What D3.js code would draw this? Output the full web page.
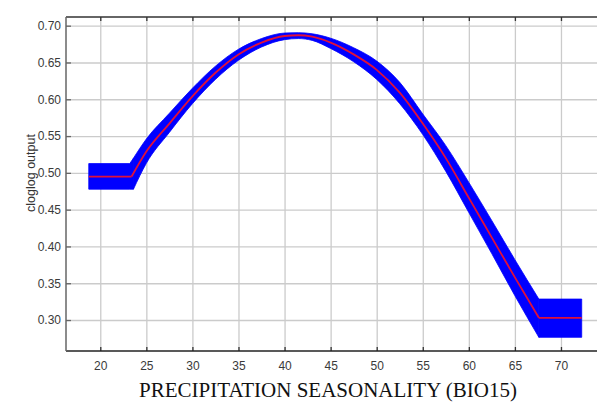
<!DOCTYPE html>
<html>
<head>
<meta charset="utf-8">
<script src="https://cdn.jsdelivr.net/npm/d3@7"></script>
<style>
  html, body { margin: 0; padding: 0; background: #fff; }
  svg { display: block; }
  text { font-family: "Liberation Sans", Arial, sans-serif; }
</style>
</head>
<body>
<svg id="chart" width="597" height="403"></svg>
<script>
// Response curve of cloglog output vs. precipitation seasonality (BIO15)
const meanX = [18.75, 23.4, 25, 27.5, 30, 32.5, 35, 37.5, 40, 41.5, 43, 45, 47.5, 50, 52.5, 55, 57.5, 60, 62.5, 65, 67.6, 72.25];
const meanY = [0.495, 0.495, 0.529, 0.567, 0.604, 0.636, 0.661, 0.677, 0.686, 0.687, 0.685, 0.677, 0.661, 0.640, 0.609, 0.567, 0.520, 0.466, 0.412, 0.358, 0.303, 0.303];

// Spread around the mean (upper / lower envelope)
const bandX     = [18.75, 23.2, 23.6, 25, 27.5, 30, 32.5, 35, 37.5, 40, 41.5, 43, 45, 47.5, 50, 52.5, 55, 57.5, 60, 62.5, 65, 67.6, 72.25];
const bandUpper = [0.5126, 0.5126, 0.520, 0.546, 0.581, 0.615, 0.645, 0.668, 0.6825, 0.690, 0.6905, 0.689, 0.683, 0.670, 0.652, 0.623, 0.580, 0.537, 0.487, 0.435, 0.382, 0.3285, 0.3285];
const bandLower = [0.4778, 0.4778, 0.4778, 0.513, 0.555, 0.594, 0.627, 0.653, 0.671, 0.681, 0.6825, 0.680, 0.669, 0.651, 0.627, 0.594, 0.552, 0.502, 0.446, 0.390, 0.333, 0.2765, 0.2765];

const xTicks = [20, 25, 30, 35, 40, 45, 50, 55, 60, 65, 70];
const yTicks = [0.30, 0.35, 0.40, 0.45, 0.50, 0.55, 0.60, 0.65, 0.70];

const xTitle = "PRECIPITATION SEASONALITY (BIO15)";
const yTitle = "cloglog output";

const svg = d3.select("#chart");
const plotLeft = 66, plotTop = 17, plotRight = 597, plotBottom = 351;

const x = d3.scaleLinear().domain([16.28, 73.91]).range([plotLeft, plotRight]);
const y = d3.scaleLinear().domain([0.2579, 0.7118]).range([plotBottom, plotTop]);

// grid
const grid = svg.append("g");
grid.append("g")
  .attr("transform", `translate(0,${plotBottom})`)
  .call(d3.axisBottom(x).tickValues(xTicks).tickSize(-(plotBottom - plotTop)).tickFormat(""))
  .call(g => g.select(".domain").remove())
  .call(g => g.selectAll("line").attr("stroke", "#cbcbcb").attr("stroke-width", 1.3));
grid.append("g")
  .attr("transform", `translate(${plotLeft},0)`)
  .call(d3.axisLeft(y).tickValues(yTicks).tickSize(-(plotRight - plotLeft)).tickFormat(""))
  .call(g => g.select(".domain").remove())
  .call(g => g.selectAll("line").attr("stroke", "#cbcbcb").attr("stroke-width", 1.3));

// The response is clamped outside the training range: flat pieces are drawn
// straight, the smooth middle piece with a monotone curve.
function pieces(data, kinkA, kinkB) {
  return [
    { rows: data.slice(0, kinkA + 1), curve: d3.curveLinear },
    { rows: data.slice(kinkA, kinkB + 1), curve: d3.curveMonotoneX },
    { rows: data.slice(kinkB), curve: d3.curveLinear }
  ];
}

// spread band
const bandData = bandX.map((v, i) => ({ x: v, lo: bandLower[i], hi: bandUpper[i] }));
const bandG = svg.append("g");
pieces(bandData, 2, bandData.length - 2).forEach(p => {
  bandG.append("path")
    .datum(p.rows)
    .attr("fill", "#0000ff")
    .attr("stroke", "#0000ff")
    .attr("stroke-width", 0.8)
    .attr("stroke-linejoin", "round")
    .attr("d", d3.area()
      .x(d => x(d.x))
      .y0(d => y(d.lo))
      .y1(d => y(d.hi))
      .curve(p.curve));
});

// mean response
const meanData = meanX.map((v, i) => ({ x: v, y: meanY[i] }));
const meanG = svg.append("g");
pieces(meanData, 1, meanData.length - 2).forEach(p => {
  meanG.append("path")
    .datum(p.rows)
    .attr("fill", "none")
    .attr("stroke", "#e0103a")
    .attr("stroke-width", 1.8)
    .attr("stroke-linejoin", "round")
    .attr("d", d3.line().x(d => x(d.x)).y(d => y(d.y)).curve(p.curve));
});

// y axis labels
svg.append("g")
  .attr("transform", `translate(${plotLeft},0)`)
  .call(d3.axisLeft(y).tickValues(yTicks).tickSize(0).tickPadding(5).tickFormat(d3.format(".2f")))
  .call(g => g.select(".domain").remove())
  .call(g => g.selectAll("text").attr("fill", "#3a3a3a").style("font-size", "12px").style("font-family", "Liberation Sans, Arial, sans-serif"));
// inner tick marks on the y axis
svg.append("g")
  .attr("transform", `translate(${plotLeft},0)`)
  .call(d3.axisRight(y).tickValues(yTicks).tickSize(5).tickFormat(""))
  .call(g => g.select(".domain").remove())
  .call(g => g.selectAll("line").attr("stroke", "#666").attr("stroke-width", 1.3));

// x axis labels + inward ticks
svg.append("g")
  .attr("transform", `translate(0,${plotBottom})`)
  .call(d3.axisBottom(x).tickValues(xTicks).tickSize(0).tickPadding(10).tickFormat(d3.format("d")))
  .call(g => g.select(".domain").remove())
  .call(g => g.selectAll("text").attr("fill", "#3a3a3a").style("font-size", "12px").style("font-family", "Liberation Sans, Arial, sans-serif"));
svg.append("g")
  .attr("transform", `translate(0,${plotBottom})`)
  .call(d3.axisTop(x).tickValues(xTicks).tickSize(4).tickFormat(""))
  .call(g => g.select(".domain").remove())
  .call(g => g.selectAll("line").attr("stroke", "#333").attr("stroke-width", 1.3));
svg.append("g")
  .attr("transform", `translate(0,${plotTop})`)
  .call(d3.axisBottom(x).tickValues(xTicks).tickSize(4).tickFormat(""))
  .call(g => g.select(".domain").remove())
  .call(g => g.selectAll("line").attr("stroke", "#333").attr("stroke-width", 1.3));

// frame lines
svg.append("line").attr("x1", plotLeft).attr("x2", plotRight).attr("y1", plotTop).attr("y2", plotTop)
  .attr("stroke", "#333").attr("stroke-width", 1.5);
svg.append("line").attr("x1", plotLeft).attr("x2", plotRight).attr("y1", plotBottom).attr("y2", plotBottom)
  .attr("stroke", "#222").attr("stroke-width", 1.5);
svg.append("line").attr("x1", plotLeft).attr("x2", plotLeft).attr("y1", plotTop).attr("y2", plotBottom)
  .attr("stroke", "#666").attr("stroke-width", 1.5);

// titles
svg.append("text")
  .attr("transform", "translate(31,173) rotate(-90)")
  .attr("text-anchor", "middle")
  .attr("dominant-baseline", "central")
  .attr("fill", "#333")
  .style("font-size", "12.5px")
  .text(yTitle);

svg.append("text")
  .attr("x", 328)
  .attr("y", 397)
  .attr("text-anchor", "middle")
  .attr("fill", "#111")
  .style("font-family", "Liberation Serif, 'Times New Roman', serif")
  .style("font-size", "21px")
  .text(xTitle);
</script>
</body>
</html>
